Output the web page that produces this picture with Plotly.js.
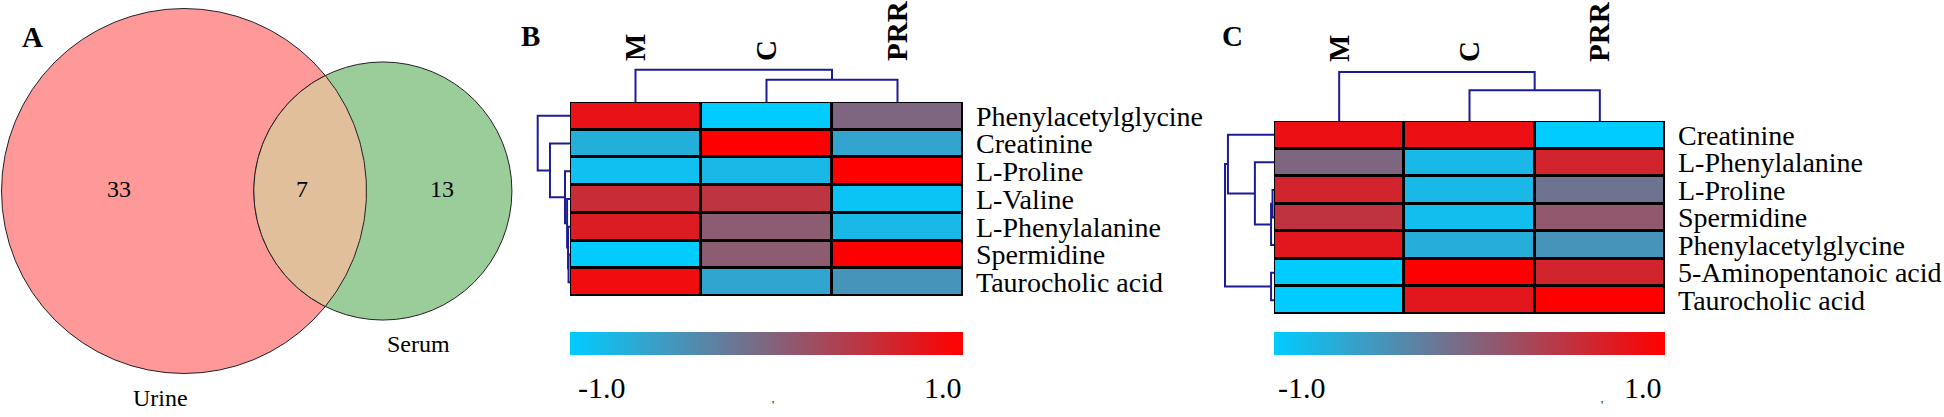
<!DOCTYPE html>
<html><head><meta charset="utf-8">
<script src="https://cdn.plot.ly/plotly-3.0.1.min.js"></script>
<style>html,body{margin:0;padding:0;background:#fff}#chart{width:1944px;height:417px}</style>
</head><body><div id="chart"></div>
<script>
// ---------- DATA ----------
const vennSets = ['Urine', 'Serum'];
const vennOnly = [33, 13];
const vennShared = 7;

const groups = ['M', 'C', 'PRR'];

const rowsB = ['Phenylacetylglycine', 'Creatinine', 'L-Proline', 'L-Valine', 'L-Phenylalanine', 'Spermidine', 'Taurocholic acid'];
const zB = [
  [0.82, -1.0, 0.0],
  [-0.72, 1.0, -0.61],
  [-0.88, -0.80, 1.0],
  [0.57, 0.49, -0.92],
  [0.73, 0.10, -0.80],
  [-1.0, 0.10, 1.0],
  [0.88, -0.62, -0.45]
];

const rowsC = ['Creatinine', 'L-Phenylalanine', 'L-Proline', 'Spermidine', 'Phenylacetylglycine', '5-Aminopentanoic acid', 'Taurocholic acid'];
const zC = [
  [0.85, 0.85, -1.0],
  [0.0, -0.80, 0.65],
  [0.65, -0.80, -0.13],
  [0.50, -0.86, 0.14],
  [0.77, -0.70, -0.45],
  [-1.0, 1.0, 0.65],
  [-1.0, 0.77, 1.0]
];

// linkage: [childA, childB, height]; leaves 0..n-1, merge k -> n+k
const colLinkB = [[1, 2, 0.69], [0, 3, 1.0]];
const rowLinkB = [[5, 6, 0.045], [4, 7, 0.06], [3, 8, 0.09], [2, 9, 0.155], [1, 10, 0.62], [0, 11, 1.0]];
const colLinkC = [[1, 2, 0.63], [0, 3, 1.0]];
const rowLinkC = [[2, 3, 0.03], [7, 4, 0.06], [1, 8, 0.39], [0, 9, 0.94], [5, 6, 0.06], [10, 11, 1.0]];

const cbLabels = ['-1.0', '1.0'];
const cbRange = [-1, 1];

// ---------- LAYOUT HELPERS ----------
const W = 1944, H = 417;
const px = x => x / W;
const py = y => 1 - y / H;
const serif = 'Liberation Serif, Times New Roman, serif';
const dendroColor = 'rgb(28,28,150)';
const colorscale = [[0, 'rgb(0,204,255)'], [0.5, 'rgb(127,102,128)'], [1, 'rgb(255,0,0)']];

function dendro(link, n) {
  const pos = [], hh = [];
  for (let i = 0; i < n; i++) { pos.push(i); hh.push(0); }
  const a = [], b = [];
  link.forEach(([p, q, ht]) => {
    a.push(pos[p], pos[p], pos[q], pos[q], null);
    b.push(hh[p], ht, ht, hh[q], null);
    pos.push((pos[p] + pos[q]) / 2); hh.push(ht);
  });
  return {a, b};
}

// ---------- VENN GEOMETRY (area proportional) ----------
function lensArea(r1, r2, d) {
  if (d >= r1 + r2) return 0;
  if (d <= Math.abs(r1 - r2)) return Math.PI * Math.min(r1, r2) ** 2;
  const a1 = Math.acos((d * d + r1 * r1 - r2 * r2) / (2 * d * r1));
  const a2 = Math.acos((d * d + r2 * r2 - r1 * r1) / (2 * d * r2));
  return r1 * r1 * a1 + r2 * r2 * a2 - 0.5 * Math.sqrt((-d + r1 + r2) * (d + r1 - r2) * (d - r1 + r2) * (d + r1 + r2));
}
const totals = [vennOnly[0] + vennShared, vennOnly[1] + vennShared];
const kScale = 182.5 / Math.sqrt(totals[0]);
const r1 = kScale * Math.sqrt(totals[0]);
const r2 = kScale * Math.sqrt(totals[1]);
const target = Math.PI * kScale * kScale * vennShared;
let lo = Math.abs(r1 - r2), hi = r1 + r2;
for (let i = 0; i < 80; i++) { const m = (lo + hi) / 2; if (lensArea(r1, r2, m) > target) lo = m; else hi = m; }
const dist = (lo + hi) / 2;
const c1x = 184, cy = 191, c2x = c1x + dist;
const aOff = (dist * dist + r1 * r1 - r2 * r2) / (2 * dist);
const al2 = Math.acos((dist - aOff) / r2), al1 = Math.acos(aOff / r1);
const lensX = [], lensY = [];
const N = 90;
for (let i = 0; i <= N; i++) { const t = -al2 + 2 * al2 * i / N; lensX.push(c2x - r2 * Math.cos(t)); lensY.push(cy + r2 * Math.sin(t)); }
for (let i = 0; i <= N; i++) { const t = al1 - 2 * al1 * i / N; lensX.push(c1x + r1 * Math.cos(t)); lensY.push(cy + r1 * Math.sin(t)); }

// ---------- TRACES ----------
const traces = [];
function heatPanel(z, rows, xa, ya, cbX, cbLen, cbTop) {
  traces.push({type: 'heatmap', z: z.map(r => r.map(() => 0)), xaxis: xa, yaxis: ya,
    colorscale: [[0, '#000'], [1, '#000']], showscale: false, hoverinfo: 'skip'});
  traces.push({type: 'heatmap', z: z, xaxis: xa, yaxis: ya, xgap: 3, ygap: 3,
    colorscale: colorscale, zmin: cbRange[0], zmax: cbRange[1],
    colorbar: {orientation: 'h', x: cbX, xanchor: 'center', y: cbTop, yanchor: 'top',
      len: cbLen, lenmode: 'pixels', thickness: 23, thicknessmode: 'pixels',
      xpad: 0, ypad: 0, outlinewidth: 0, showticklabels: false, ticks: ''}});
}
heatPanel(zB, rowsB, 'x', 'y', px(766.5), 393, py(332));
heatPanel(zC, rowsC, 'x3', 'y3', px(1469.5), 391, py(332));

function dendroTrace(link, n, xa, ya, horizontal) {
  const d = dendro(link, n);
  traces.push({type: 'scatter', mode: 'lines', xaxis: xa, yaxis: ya,
    x: horizontal ? d.b : d.a, y: horizontal ? d.a : d.b,
    line: {color: dendroColor, width: 2}, hoverinfo: 'skip', showlegend: false, connectgaps: false});
}
dendroTrace(colLinkB, groups.length, 'x', 'y2', false);
dendroTrace(rowLinkB, rowsB.length, 'x2', 'y', true);
dendroTrace(colLinkC, groups.length, 'x3', 'y4', false);
dendroTrace(rowLinkC, rowsC.length, 'x4', 'y3', true);

traces.push({type: 'scatter', mode: 'lines', x: lensX, y: lensY, xaxis: 'x5', yaxis: 'y5',
  fill: 'toself', fillcolor: 'rgb(225,191,155)', line: {color: '#222', width: 1},
  hoverinfo: 'skip', showlegend: false});

// ---------- AXES ----------
const hidden = {visible: false, showgrid: false, zeroline: false, fixedrange: true};
const idx = arr => arr.map((_, i) => i);
function heatX(domain, anchor, standoff) {
  return {domain, anchor, range: [-0.5, groups.length - 0.5], tickvals: idx(groups), ticktext: groups,
    side: 'top', tickangle: -90, ticks: '', showgrid: false, zeroline: false, showline: false,
    ticklabelstandoff: standoff,
    tickfont: {family: serif, size: 29, color: '#000', weight: 'bold'}};
}
function heatY(domain, anchor, rows) {
  return {domain, anchor, range: [rows.length - 0.5, -0.5], tickvals: idx(rows), ticktext: rows,
    side: 'right', ticks: '', showgrid: false, zeroline: false, showline: false,
    ticklabelstandoff: 12,
    tickfont: {family: serif, size: 28, color: '#000'}};
}

const layout = {
  width: W, height: H, margin: {l: 0, r: 0, t: 0, b: 0},
  paper_bgcolor: '#fff', plot_bgcolor: 'rgba(0,0,0,0)', showlegend: false,
  xaxis: heatX([px(570), px(963)], 'y', 40),
  yaxis: heatY([py(296), py(102)], 'x', rowsB),
  yaxis2: Object.assign({domain: [py(102), py(102 - 32.3 * 1.1)], anchor: 'x', range: [0, 1.1]}, hidden),
  xaxis2: Object.assign({domain: [px(570 - 32.3 * 1.1), px(570)], anchor: 'y', range: [1.1, 0]}, hidden),
  xaxis3: heatX([px(1274), px(1665)], 'y3', 58),
  yaxis3: heatY([py(314), py(121)], 'x3', rowsC),
  yaxis4: Object.assign({domain: [py(121), py(121 - 49 * 1.1)], anchor: 'x3', range: [0, 1.1]}, hidden),
  xaxis4: Object.assign({domain: [px(1274 - 49 * 1.1), px(1274)], anchor: 'y3', range: [1.1, 0]}, hidden),
  xaxis5: Object.assign({domain: [0, px(520)], anchor: 'y5', range: [0, 520]}, hidden),
  yaxis5: Object.assign({domain: [0, 1], anchor: 'x5', range: [417, 0]}, hidden),
  shapes: [
    {type: 'circle', xref: 'x5', yref: 'y5', x0: c1x - r1, x1: c1x + r1, y0: cy - r1, y1: cy + r1,
      fillcolor: 'rgb(255,152,152)', line: {color: '#222', width: 1}, layer: 'below'},
    {type: 'circle', xref: 'x5', yref: 'y5', x0: c2x - r2, x1: c2x + r2, y0: cy - r2, y1: cy + r2,
      fillcolor: 'rgb(154,205,154)', line: {color: '#222', width: 1}, layer: 'below'}
  ],
  annotations: []
};

const ann = layout.annotations;
function paperText(text, x, y, size, opts) {
  ann.push(Object.assign({text, xref: 'paper', yref: 'paper', x: px(x), y: py(y), showarrow: false,
    xanchor: 'center', yanchor: 'middle', font: {family: serif, size, color: '#000'}}, opts || {}));
}
paperText('<b>A</b>', 32, 37, 29);
paperText('<b>B</b>', 530, 36, 29);
paperText('<b>C</b>', 1232, 36, 29);

function vennText(text, x, y) {
  ann.push({text, xref: 'x5', yref: 'y5', x, y, showarrow: false, xanchor: 'center', yanchor: 'middle',
    font: {family: serif, size: 24, color: '#000'}});
}
vennText(String(vennOnly[0]), ((c1x - r1) + (c2x - r2)) / 2 - 9, cy - 2);
vennText(String(vennShared), ((c2x - r2) + (c1x + r1)) / 2 - 8, cy - 2);
vennText(String(vennOnly[1]), ((c1x + r1) + (c2x + r2)) / 2 + 3, cy - 2);
vennText(vennSets[0], c1x - 24, cy + r1 + 24);
vennText(vennSets[1], c2x + 36, cy + r2 + 24);

// colorbar end labels
paperText(cbLabels[0], 576, 387, 30, {xanchor: 'left'});
paperText(cbLabels[1], 964, 387, 30, {xanchor: 'right'});
paperText(cbLabels[0], 1276, 387, 30, {xanchor: 'left'});
paperText(cbLabels[1], 1664, 387, 30, {xanchor: 'right'});
paperText("'", 773, 405, 12);
paperText("'", 1602, 405, 12);

Plotly.newPlot('chart', traces, layout, {staticPlot: true, displayModeBar: false});
</script></body></html>
